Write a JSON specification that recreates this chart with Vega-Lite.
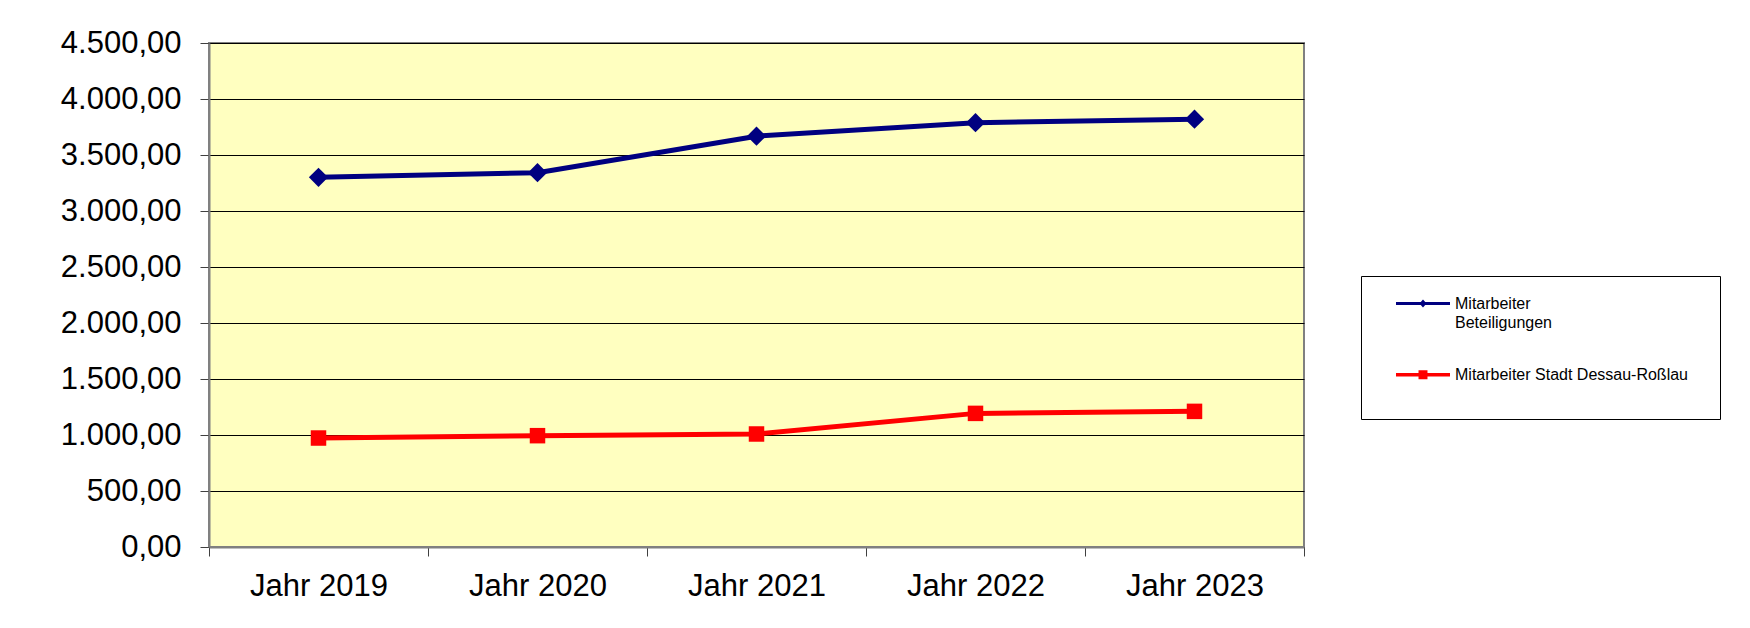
{
  "$schema": "https://vega.github.io/schema/vega-lite/v6.json",
  "autosize": {"type": "none"},
  "width": 1095,
  "height": 504,
  "padding": {"left": 209, "top": 43, "right": 446, "bottom": 81},
  "background": "#FFFFFF",
  "config": {
    "locale": {"number": {"decimal": ",", "thousands": ".", "grouping": [3], "currency": ["", " €"]}},
    "view": {"fill": "#FFFFC0", "stroke": "#808080", "strokeWidth": 2},
    "font": "Liberation Sans"
  },
  "data": {
    "values": [
      {"jahr": "Jahr 2019", "serie": "Mitarbeiter Beteiligungen", "wert": 3301},
      {"jahr": "Jahr 2020", "serie": "Mitarbeiter Beteiligungen", "wert": 3342},
      {"jahr": "Jahr 2021", "serie": "Mitarbeiter Beteiligungen", "wert": 3668},
      {"jahr": "Jahr 2022", "serie": "Mitarbeiter Beteiligungen", "wert": 3789},
      {"jahr": "Jahr 2023", "serie": "Mitarbeiter Beteiligungen", "wert": 3820},
      {"jahr": "Jahr 2019", "serie": "Mitarbeiter Stadt Dessau-Roßlau", "wert": 973},
      {"jahr": "Jahr 2020", "serie": "Mitarbeiter Stadt Dessau-Roßlau", "wert": 994},
      {"jahr": "Jahr 2021", "serie": "Mitarbeiter Stadt Dessau-Roßlau", "wert": 1009},
      {"jahr": "Jahr 2022", "serie": "Mitarbeiter Stadt Dessau-Roßlau", "wert": 1193},
      {"jahr": "Jahr 2023", "serie": "Mitarbeiter Stadt Dessau-Roßlau", "wert": 1211}
    ]
  },
  "encoding": {
    "x": {
      "field": "jahr", "type": "nominal", "sort": null,
      "scale": {"type": "band", "paddingInner": 0, "paddingOuter": 0},
      "axis": {
        "title": null, "labelAngle": 0, "labelFont": "Liberation Sans", "labelFontSize": 31,
        "labelColor": "#000000", "labelPadding": 15, "labelBaseline": "top",
        "tickBand": "extent", "tickSize": 9, "tickColor": "#404040", "tickWidth": 1,
        "domainColor": "#808080", "domainWidth": 2, "grid": false
      }
    },
    "y": {
      "field": "wert", "type": "quantitative",
      "scale": {"domain": [0, 4500], "nice": false, "zero": true},
      "axis": {
        "title": null, "values": [0, 500, 1000, 1500, 2000, 2500, 3000, 3500, 4000, 4500],
        "format": ",.2f", "labelFont": "Liberation Sans", "labelFontSize": 31, "labelColor": "#000000",
        "labelPadding": 19, "tickSize": 9, "tickColor": "#404040", "tickWidth": 1,
        "domainColor": "#808080", "domainWidth": 2,
        "grid": true, "gridColor": "#000000", "gridWidth": 1, "gridOpacity": 1
      }
    },
    "color": {
      "field": "serie", "type": "nominal",
      "scale": {"domain": ["Mitarbeiter Beteiligungen", "Mitarbeiter Stadt Dessau-Roßlau"], "range": ["#000080", "#FF0000"]}
    }
  },
  "layer": [
    {
      "mark": {"type": "line", "strokeWidth": 5},
      "encoding": {
        "color": {
          "field": "serie", "type": "nominal",
          "scale": {"domain": ["Mitarbeiter Beteiligungen", "Mitarbeiter Stadt Dessau-Roßlau"], "range": ["#000080", "#FF0000"]},
          "legend": {
            "orient": "none", "legendX": 1152, "legendY": 233,
            "title": " ", "titleOrient": "right", "titlePadding": 13, "titleFontSize": 16, "titleFont": "Liberation Sans",
            "padding": 19.5, "strokeColor": "#000000", "fillColor": "#FFFFFF",
            "labelFont": "Liberation Sans", "labelFontSize": 16, "labelColor": "#000000", "labelLimit": 400,
            "labelOffset": 58.5, "rowPadding": 36.2, "symbolSize": 256, "symbolStrokeWidth": 0, "symbolOffset": 0,
            "labelExpr": "datum.label === 'Mitarbeiter Beteiligungen' ? ['Mitarbeiter', 'Beteiligungen'] : [datum.label, '']",
            "encode": {
              "symbols": {"update": {
                "shape": {"signal": "datum.value === 'Mitarbeiter Beteiligungen' ? 'M-1,0M0.9375,-0.2H7.6875V0.2H0.9375Z M4.3125,-0.5L4.7525,0L4.3125,0.5L3.8725,0Z' : 'M-1,0M0.9375,-0.225H7.6875V0.225H0.9375Z M3.7525,-0.56H4.8725V0.56H3.7525Z'"},
                "fill": {"scale": "color", "field": "value"},
                "stroke": {"value": "transparent"},
                "opacity": {"value": 1}
              }},
              "labels": {"update": {"lineHeight": {"signal": "datum.value === 'Mitarbeiter Beteiligungen' ? 19 : 16"}}}
            }
          }
        }
      }
    },
    {
      "transform": [{"filter": "datum.serie === 'Mitarbeiter Beteiligungen'"}],
      "mark": {"type": "point", "shape": "diamond", "size": 370, "filled": true, "opacity": 1, "strokeWidth": 0}
    },
    {
      "transform": [{"filter": "datum.serie === 'Mitarbeiter Stadt Dessau-Roßlau'"}],
      "mark": {"type": "point", "shape": "square", "size": 240, "filled": true, "opacity": 1, "strokeWidth": 0}
    }
  ]
}
